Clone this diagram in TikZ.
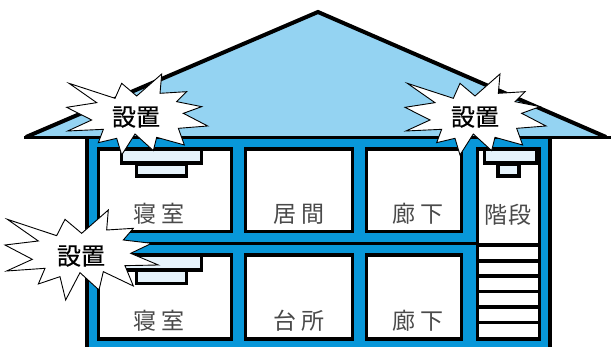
\documentclass[tikz,border=0pt]{standalone}
\usepackage{fontspec}
\setmainfont{Noto Sans CJK JP}
\newfontfamily\burstfont[FakeBold=0.6]{Noto Sans CJK JP}
\definecolor{wallblue}{HTML}{0897D9}
\definecolor{roofblue}{HTML}{94D3F2}
\definecolor{alarmblue}{HTML}{E6F3FB}
\definecolor{labelgray}{HTML}{4A4A4A}
\newcommand{\burstA}[2]{%
  \begin{scope}[shift={(#1,#2)},x=0.3333pt,y=-0.3333pt]
  \draw[burstline] (52,70)--(190,115)--(210,70)--(255,108)--(330,42)--(325,100)--(405,95)--(375,125)--(450,140)--(395,160)--(468,198)--(380,205)--(398,255)--(315,232)--(305,272)--(250,222)--(210,285)--(195,235)--(140,248)--(155,208)--(48,213)--(120,180)--(45,142)--(135,128)--cycle;
  \end{scope}
}
\tikzset{
  x=1pt,y=-1pt,
  room/.style={draw=black,line width=3.5pt,fill=white,line join=miter},
  alarm/.style={draw=black,line width=3.5pt,fill=alarmblue,line join=miter},
  burstline/.style={draw=black,line width=0.9pt,fill=white,line join=miter},
  roomlabel/.style={text=labelgray,font=\fontsize{23}{23}\selectfont,inner sep=0pt},
  burstlabel/.style={text=black,font=\fontsize{24}{24}\selectfont\burstfont,inner sep=0pt},
}
\begin{document}
\begin{tikzpicture}
\useasboundingbox (0,0) rectangle (611,347);
% roof
\fill[roofblue] (24,138)--(318,12)--(610,138)--cycle;
\draw[black,line width=4pt,line join=miter] (26,137)--(318,12)--(606,137);
\draw[black,line width=3pt] (24,138)--(611,138);
% walls
\fill[wallblue] (87,139) rectangle (550,347);
\draw[black,line width=3.5pt] (87,139)--(87,347);
\draw[black,line width=3.5pt] (550,139)--(550,347);
\draw[black,line width=3pt] (88,243.5)--(476,243.5);
% rooms
\foreach \xa/\xb in {98.5/231.5,245.5/352.5,366.5/461.5}{
  \draw[room] (\xa,149) rectangle (\xb,231.5);
  \draw[room] (\xa,255) rectangle (\xb,339);
}
\draw[room] (477.5,149) rectangle (539.5,245);
% stairs
\draw[room] (477.5,245) rectangle (539.5,339);
\foreach \y in {261,276,291.5,307,322.5}{
  \draw[black,line width=3.8pt] (476,\y)--(541,\y);
}
% alarms
\draw[alarm] (136.5,164) rectangle (186.5,176);
\draw[alarm] (121.5,149) rectangle (201.5,163);
\draw[alarm] (136.5,270) rectangle (186.5,283.5);
\draw[alarm] (121.5,255) rectangle (201.5,270);
\draw[alarm] (498,164) rectangle (519,176);
\draw[alarm] (484.5,149) rectangle (536.5,163);
% labels
\node[roomlabel] (r1) at (159,214) {寝\hspace{5pt}室};
\node[roomlabel] (r2) at (299,214) {居\hspace{5pt}間};
\node[roomlabel] (r3) at (418,214) {廊\hspace{5pt}下};
\node[roomlabel] (r4) at (508,215) {階\hspace{2pt}段};
\node[roomlabel] (r5) at (159,321) {寝\hspace{5pt}室};
\node[roomlabel] (r6) at (299,321) {台\hspace{5pt}所};
\node[roomlabel] (r7) at (418,321) {廊\hspace{5pt}下};
% bursts
\burstA{51.7}{60}
\burstA{390}{60}
\begin{scope}[shift={(0,200)},x=0.3333pt,y=-0.3333pt]
\draw[burstline] (22,58)--(170,107)--(195,58)--(245,100)--(325,30)--(320,90)--(400,85)--(370,120)--(455,130)--(392,160)--(475,195)--(375,197)--(400,258)--(310,215)--(297,270)--(240,218)--(197,300)--(180,230)--(115,252)--(135,205)--(20,213)--(97,178)--(15,135)--(115,123)--cycle;
\end{scope}
\node[burstlabel] (b1) at (136,117) {設置};
\node[burstlabel] (b2) at (475,117) {設置};
\node[burstlabel] (b3) at (81,256) {設置};
\end{tikzpicture}
\end{document}
